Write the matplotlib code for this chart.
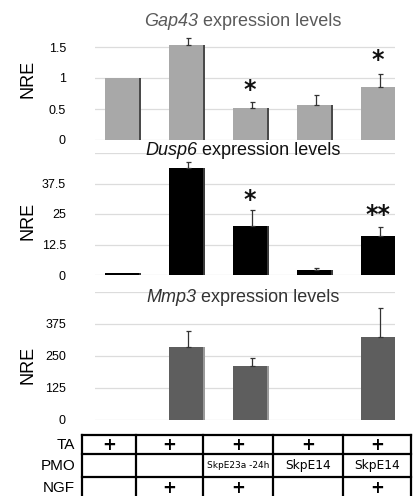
import matplotlib
matplotlib.use("Agg")
import matplotlib.pyplot as plt
import numpy as np

plt.rcParams['font.family'] = ['Liberation Sans', 'DejaVu Sans']

# ---------------- data ----------------
conditions = ["c1", "c2", "c3", "c4", "c5"]

gap43_vals = [1.0, 1.53, 0.52, 0.57, 0.85]
gap43_err = [0.0, 0.12, 0.10, 0.15, 0.21]
gap43_stars = ["", "", "*", "", "*"]
gap43_star_y = [0, 0, 0.81, 0, 1.29]
gap43_ticks = [0, 0.5, 1, 1.5]
gap43_ticklabels = ["0", "0.5", "1", "1.5"]

dusp6_vals = [0.8, 43.7, 20.1, 2.0, 16.1]
dusp6_err = [0.0, 2.7, 6.5, 0.8, 3.4]
dusp6_stars = ["", "", "*", "", "**"]
dusp6_star_y = [0, 0, 30.7, 0, 24.6]
dusp6_ticks = [0, 12.5, 25, 37.5, 50]
dusp6_ticklabels = ["0", "12.5", "25", "37.5", ""]

mmp3_vals = [1.0, 284, 212, 1.0, 325]
mmp3_err = [0.0, 64, 29, 0.0, 114]
mmp3_ticks = [0, 125, 250, 375, 500]
mmp3_ticklabels = ["0", "125", "250", "375", ""]

titles_gene = ["Gap43", "Dusp6", "Mmp3"]
title_rest = " expression levels"

row_labels = ["TA", "PMO", "NGF"]
ta_row = ["+", "+", "+", "+", "+"]
pmo_row = ["", "", "SkpE23a -24h", "SkpE14", "SkpE14"]
ngf_row = ["", "+", "+", "", "+"]

# ---------------- figure ----------------
W, H = 413, 496
fig = plt.figure(figsize=(W / 100, H / 100), dpi=100)
renderer = fig.canvas.get_renderer()

def frac_rect(x0, x1, ytop, ybot):
    return [x0 / W, 1 - ybot / H, (x1 - x0) / W, (ybot - ytop) / H]

x = np.arange(len(conditions))
bw = 0.53
xlim = (-0.42, 4.27)

def panel(rect, vals, err, color, shadow, ylim, ticks, ticklabels,
          label_y, stars=None, star_y=None):
    ax = fig.add_axes(rect)
    ax.set_xlim(*xlim)
    ax.set_ylim(*ylim)
    for g in ticks:
        ax.axhline(g, color="#dcdcdc", lw=0.9, zorder=0)
    ax.bar(x + 0.03, vals, width=bw, color=shadow, zorder=1)
    ax.bar(x, vals, width=bw, color=color, zorder=2)
    err = np.asarray(err, dtype=float)
    vals_a = np.asarray(vals, dtype=float)
    m = err > 0
    ax.errorbar(x[m] + 0.04, vals_a[m], yerr=[np.zeros(m.sum()), err[m]], fmt="none",
                ecolor="#333333", elinewidth=0.9, capsize=1.8, capthick=0.9, zorder=3)
    ax.set_yticks(ticks)
    ax.set_yticklabels(ticklabels, fontsize=9)
    ax.tick_params(axis="y", length=0, pad=21)
    ax.set_xticks([])
    for s in ax.spines.values():
        s.set_visible(False)
    ax.patch.set_alpha(0)
    ax.set_ylabel("NRE", fontsize=13)
    ax.yaxis.set_label_coords(-0.195, label_y)
    if stars is not None:
        for xi, st, sy in zip(x, stars, star_y):
            if st:
                ax.text(xi, sy, st, ha="center", va="center", fontsize=17,
                        family="DejaVu Sans", fontweight="bold", color="#111111", zorder=4)
    return ax

ax1 = panel(frac_rect(95, 395, 31.5, 140), gap43_vals, gap43_err, "#a8a8a8", "#4a4a4a",
            (0, 1.75), gap43_ticks, gap43_ticklabels, 0.56, gap43_stars, gap43_star_y)
ax2 = panel(frac_rect(95, 395, 153, 275), dusp6_vals, dusp6_err, "#000000", "#3a3a3a",
            (0, 50), dusp6_ticks, dusp6_ticklabels, 0.44, dusp6_stars, dusp6_star_y)
ax3 = panel(frac_rect(95, 395, 292, 420), mmp3_vals, mmp3_err, "#5e5e5e", "#9a9a9a",
            (0, 500), mmp3_ticks, mmp3_ticklabels, 0.43)

def title(gene, xc, yc, color):
    t1 = fig.text(0, 1 - yc / H, gene, fontsize=13, style="italic", color=color,
                  va="center", ha="left")
    t2 = fig.text(0, 1 - yc / H, title_rest, fontsize=13, color=color,
                  va="center", ha="left")
    w1 = t1.get_window_extent(renderer).width
    w2 = t2.get_window_extent(renderer).width
    x0 = xc - (w1 + w2) / 2
    t1.set_x(x0 / W)
    t2.set_x((x0 + w1) / W)

title(titles_gene[0], 243, 22, "#5a5a5a")
title(titles_gene[1], 243, 150, "#111111")
title(titles_gene[2], 243, 297, "#333333")

# ---------------- table ----------------
tax = fig.add_axes([0, 0, 1, 1])
tax.set_xlim(0, W)
tax.set_ylim(H, 0)
tax.axis("off")
col_edges = [82, 136, 203, 273, 343, 411]
row_edges = [435, 454, 477, 500]
lw = 1.6
for cx in col_edges:
    tax.plot([cx, cx], [row_edges[0], row_edges[-1]], color="black", lw=lw,
             solid_capstyle="projecting")
for ry in row_edges[:-1]:
    tax.plot([col_edges[0], col_edges[-1]], [ry, ry], color="black", lw=lw,
             solid_capstyle="projecting")

rows = [ta_row, pmo_row, ngf_row]
for r, (lab, row) in enumerate(zip(row_labels, rows)):
    yc = (row_edges[r] + row_edges[r + 1]) / 2
    if r == 2:
        yc = 488
    tax.text(75, yc + 0.5, lab, ha="right", va="center", fontsize=11, color="black")
    for c, val in enumerate(row):
        if not val:
            continue
        xc = (col_edges[c] + col_edges[c + 1]) / 2
        if val == "+":
            tax.text(xc, yc, val, ha="center", va="center", fontsize=12,
                     family="DejaVu Sans", fontweight="bold")
        else:
            fs = 6.5 if len(val) > 8 else 8.8
            tax.text(xc, yc + 0.5, val, ha="center", va="center", fontsize=fs,
                     family="DejaVu Sans")

fig.savefig("out.png", dpi=100)
